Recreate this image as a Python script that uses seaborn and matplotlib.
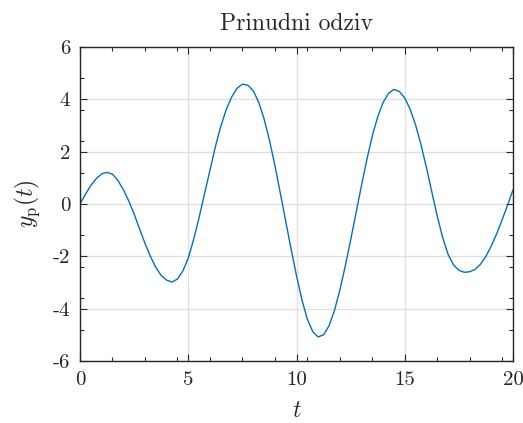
import numpy as np
import pandas as pd
import matplotlib
matplotlib.use("Agg")
import matplotlib.pyplot as plt
import seaborn as sns
from matplotlib.ticker import MultipleLocator

# values (t step 0.25)
t = [0.0, 0.25, 0.5, 0.75, 1.0, 1.25, 1.5, 1.75, 2.0, 2.25,
     2.5, 2.75, 3.0, 3.25, 3.5, 3.75, 4.0, 4.25, 4.5, 4.75,
     5.0, 5.25, 5.5, 5.75, 6.0, 6.25, 6.5, 6.75, 7.0, 7.25,
     7.5, 7.75, 8.0, 8.25, 8.5, 8.75, 9.0, 9.25, 9.5, 9.75,
     10.0, 10.25, 10.5, 10.75, 11.0, 11.25, 11.5, 11.75, 12.0, 12.25,
     12.5, 12.75, 13.0, 13.25, 13.5, 13.75, 14.0, 14.25, 14.5, 14.75,
     15.0, 15.25, 15.5, 15.75, 16.0, 16.25, 16.5, 16.75, 17.0, 17.25,
     17.5, 17.75, 18.0, 18.25, 18.5, 18.75, 19.0, 19.25, 19.5, 19.75,
     20.0]
y_p = [0.0, 0.37, 0.71, 0.97, 1.15, 1.21, 1.14, 0.90, 0.55, 0.12,
       -0.38, -0.95, -1.50, -2.0, -2.42, -2.73, -2.91, -2.98, -2.87, -2.56,
       -2.07, -1.35, -0.52, 0.38, 1.28, 2.18, 2.96, 3.6, 4.08, 4.42,
       4.58, 4.54, 4.33, 3.9, 3.26, 2.44, 1.48, 0.43, -0.65, -1.72,
       -2.74, -3.66, -4.40, -4.88, -5.08, -5.0, -4.66, -4.08, -3.3, -2.38,
       -1.38, -0.34, 0.70, 1.7, 2.6, 3.33, 3.88, 4.23, 4.38, 4.30,
       4.05, 3.62, 3.02, 2.27, 1.40, 0.46, -0.46, -1.28, -1.92, -2.33,
       -2.53, -2.61, -2.59, -2.5, -2.3, -2.0, -1.6, -1.13, -0.6, -0.04,
       0.54]

x_ticks = [0, 5, 10, 15, 20]
y_ticks = [-6, -4, -2, 0, 2, 4, 6]

df = pd.DataFrame({"t": t, "y": y_p})

sns.set_theme(style="ticks")
plt.rcParams["font.family"] = ["serif"]
plt.rcParams["font.serif"] = ["cmr10", "DejaVu Serif"]
plt.rcParams["mathtext.fontset"] = "cm"
plt.rcParams["axes.unicode_minus"] = False
plt.rcParams["axes.formatter.use_mathtext"] = True

fig = plt.figure(figsize=(5.23, 4.23), dpi=100)
ax = fig.add_axes([80 / 523, 1 - 361 / 423, 433 / 523, 314 / 423])

sns.lineplot(data=df, x="t", y="y", ax=ax, color="#0072BD", linewidth=1.0,
             sort=False, estimator=None, solid_joinstyle="round")

ax.set_xlim(0, 20)
ax.set_ylim(-6, 6)
ax.set_xticks(x_ticks)
ax.set_yticks(y_ticks)
ax.set_xticklabels([str(v) for v in x_ticks])
ax.set_yticklabels([str(v) for v in y_ticks])
ax.xaxis.set_minor_locator(MultipleLocator(1.5))
ax.yaxis.set_minor_locator(MultipleLocator(1.2))

ax.grid(True, which="major", color="#dfdfdf", linewidth=0.9)
ax.set_axisbelow(True)
for s in ax.spines.values():
    s.set_color("#262626")
    s.set_linewidth(1.0)
ax.tick_params(which="both", direction="in", top=True, right=True,
               colors="#262626", labelsize=15, labelcolor="#262626")
ax.tick_params(which="major", length=5, width=0.8, pad=7)
ax.tick_params(which="minor", length=3, width=0.8)

ax.set_title("Prinudni odziv", fontsize=17, color="#262626", pad=12)
ax.set_xlabel(r"$t$", fontsize=17, color="#262626", labelpad=8)
ax.set_ylabel(r"$y_\mathrm{p}(t)$", fontsize=17, color="#262626", labelpad=8)

fig.savefig("out.png", dpi=100)
